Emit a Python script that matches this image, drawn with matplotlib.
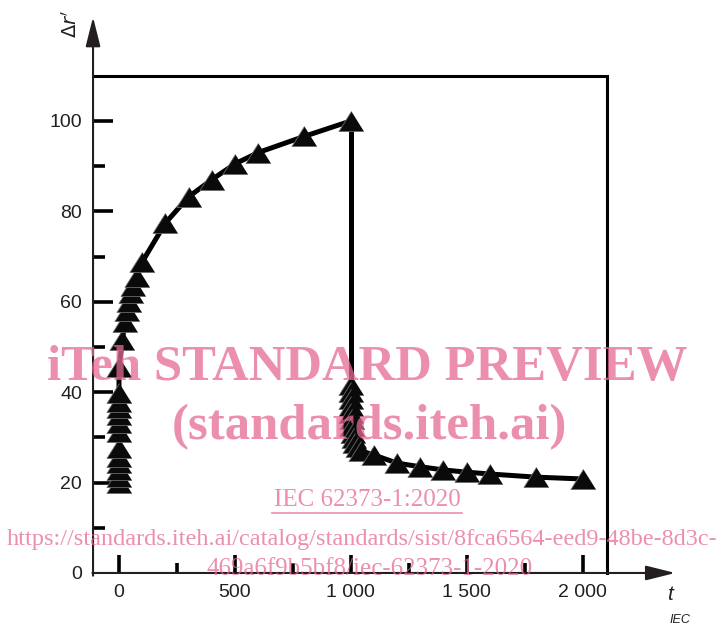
import numpy as np
import matplotlib.pyplot as plt
from matplotlib.patches import ArrowStyle
from matplotlib.lines import Line2D

# rise at t = 0 .. 1000 s
t_rise = [0, 0, 0, 0, 0, 0, 0, 0, 0, 0, 0, 0, 0,
          15, 25, 35, 42, 50, 62, 78, 100, 200, 300, 400, 500, 600, 800, 1000]
r_rise = [20.0, 21.2, 22.8, 24.3, 25.7, 27.7, 31.2, 33.2, 35.0, 36.5, 37.8, 39.8, 45.6,
          51.5, 55.5, 58.0, 60.0, 62.0, 63.5, 65.5, 68.8, 77.4, 83.2, 87.0, 90.5, 93.0, 96.6, 100.0]

# recovery after 1000 s
t_fall = [1000, 1000, 1001, 1002, 1003, 1005, 1007, 1010, 1014, 1020, 1030, 1045,
          1100, 1200, 1300, 1400, 1500, 1600, 1800, 2000]
r_fall = [41.6, 40.0, 38.5, 37.0, 35.5, 34.0, 32.5, 31.0, 29.8, 28.7, 27.8, 27.0,
          26.1, 24.3, 23.5, 22.8, 22.3, 21.9, 21.2, 20.8]

x_ticks = [0, 500, 1000, 1500, 2000]
x_labels = ['0', '500', '1 000', '1 500', '2 000']
x_minor = [250, 750, 1250, 1750]
y_ticks = [0, 20, 40, 60, 80, 100]
y_labels = ['0', '20', '40', '60', '80', '100']
y_minor = [10, 30, 50, 70, 90]

plt.rcParams['font.family'] = ['Liberation Sans', 'DejaVu Sans']

fig = plt.figure(figsize=(7.24, 6.25), dpi=100)
ax = fig.add_axes([0.1285, 0.076, 0.8042, 0.8968])
xmin, xmax = -112, 2400
ax.set_xlim(xmin, xmax)
ax.set_ylim(-1, 123)
for s in ax.spines.values():
    s.set_visible(False)
ax.spines['bottom'].set_position(('data', 0))

# axes with arrows
arr = ArrowStyle('-|>', head_length=1.2, head_width=0.3)
ax.annotate('', xy=(xmin, 123), xytext=(xmin, -0.6), annotation_clip=False,
            arrowprops=dict(arrowstyle=arr, mutation_scale=15, lw=1.5,
                            color='#231f20', shrinkA=0, shrinkB=0))
ax.annotate('', xy=(xmax, 0), xytext=(xmin - 3, 0), annotation_clip=False,
            arrowprops=dict(arrowstyle=arr, mutation_scale=15, lw=1.5,
                            color='#231f20', shrinkA=0, shrinkB=0))

# frame top and right
box_top, box_right = 110, 2105
ax.plot([xmin, box_right, box_right], [box_top, box_top, 0], color='black', lw=2.2,
        solid_joinstyle='miter', clip_on=False)

# ticks
ax.set_xticks(x_ticks, x_labels)
ax.set_xticks(x_minor, minor=True)
ax.set_yticks(y_ticks, y_labels)
ax.set_yticks(y_minor, minor=True)
ax.tick_params(which='both', direction='in', width=2.6, color='black',
               labelsize=14, labelcolor='#231f20', pad=8)
ax.tick_params(axis='y', which='major', length=14.4)
ax.tick_params(axis='y', which='minor', length=8.6)
ax.tick_params(axis='x', which='major', length=13)
ax.tick_params(axis='x', which='minor', length=7)
ax.yaxis.get_major_ticks()[0].tick1line.set_visible(False)

tri = [(0, 0.8), (-1, -0.8), (1, -0.8)]
for tt, rr in [(t_rise, r_rise), (t_fall, r_fall)]:
    ax.plot(tt, rr, color='black', lw=3.6, marker=tri, markersize=18,
            markerfacecolor='#0a0a0a', markeredgecolor='#6a6a6a', markeredgewidth=0.6,
            clip_on=False, zorder=3)
ax.plot([t_rise[-1], t_fall[0]], [r_rise[-1], r_fall[0]], color='black', lw=3.6, zorder=2)

# axis labels
ax.text(-210, 121.5, r"$\Delta r'$", rotation=90, fontsize=14, ha='center', va='center',
        color='#231f20')
fig.text(670 / 724, 1 - 595 / 625, 't', fontsize=15, style='italic', ha='center',
         va='center', color='#231f20')
fig.text(680 / 724, 1 - 620 / 625, 'IEC', fontsize=9, style='italic', ha='center',
         va='center', color='#231f20')

# watermark
wm = dict(color='#e66a92', alpha=0.75, family='Liberation Serif', ha='center', va='center',
          zorder=5)
fig.text(367 / 724, 1 - 368 / 625, 'iTeh STANDARD PREVIEW', fontsize=36.5, weight='bold', **wm)
fig.text(369 / 724, 1 - 427 / 625, '(standards.iteh.ai)', fontsize=36.5, weight='bold', **wm)
fig.text(367 / 724, 1 - 500 / 625, 'IEC 62373-1:2020', fontsize=18, **wm)
fig.add_artist(Line2D([272 / 724, 462 / 724], [1 - 513 / 625, 1 - 513 / 625],
                      color='#e66a92', alpha=0.75, lw=1.2, zorder=5))
fig.text(362 / 724, 1 - 539 / 625,
         'https://standards.iteh.ai/catalog/standards/sist/8fca6564-eed9-48be-8d3c-',
         fontsize=17.5, **wm)
fig.text(370 / 724, 1 - 569 / 625, '469a6f9b5bf8/iec-62373-1-2020', fontsize=18, **wm)

fig.savefig('out.png', dpi=100)
